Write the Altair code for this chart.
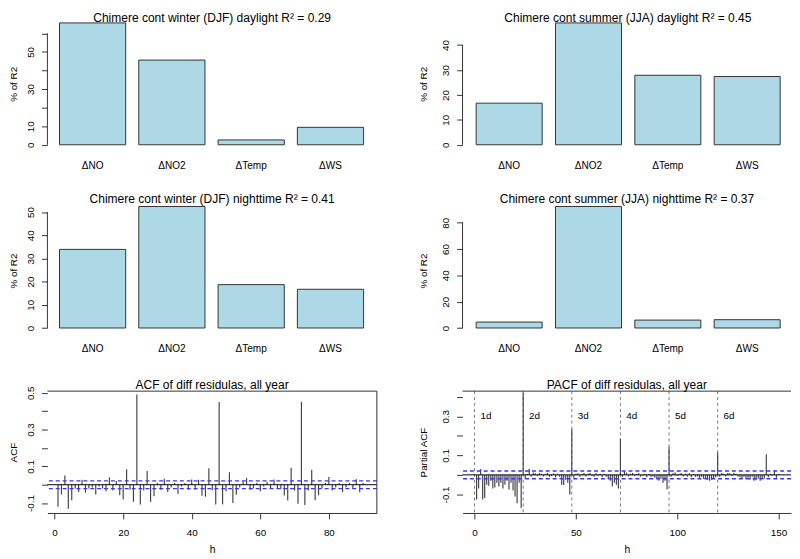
import json
import altair as alt
import pandas as pd

FONT = "Liberation Sans"
INK = "#333333"
BAR_FILL = "#ADD8E6"

# ---------------- data ----------------
variables = ["ΔNO", "ΔNO2", "ΔTemp", "ΔWS"]
winter_day = [65.6, 45.6, 2.6, 9.4]
summer_day = [16.7, 48.9, 27.9, 27.4]
winter_night = [33.9, 52.4, 18.7, 16.7]
summer_night = [4.5, 92.3, 6.0, 6.3]

title_wd = "Chimere cont winter (DJF) daylight R² = 0.29"
title_sd = "Chimere cont summer (JJA) daylight R² = 0.45"
title_wn = "Chimere cont winter (DJF) nighttime R² = 0.41"
title_sn = "Chimere cont summer (JJA) nighttime R² = 0.37"

ticks_wd = [0, 10, 20, 30, 40, 50, 60]
shown_wd = [0, 10, 30, 50]
ticks_sd = [0, 10, 20, 30, 40]
ticks_wn = [0, 10, 20, 30, 40, 50]
ticks_sn = [0, 20, 40, 60, 80]

acf_lags = list(range(1, 91))
acf_values = [
    -0.120, -0.053, 0.050, -0.130, -0.085, -0.020, -0.040, 0.027, -0.043, -0.020,
    -0.015, -0.053, -0.010, -0.020, -0.036, 0.040, -0.032, 0.020, -0.057, -0.080,
    0.084, -0.027, -0.093, 0.490, -0.107, -0.032, 0.075, -0.093, -0.063, 0.010,
    -0.027, 0.032, -0.040, -0.015, 0.010, -0.050, -0.010, 0.010, -0.027, 0.028,
    -0.027, 0.027, -0.060, -0.065, 0.089, -0.030, -0.107, 0.450, -0.107, -0.036,
    0.068, -0.100, -0.055, -0.015, 0.018, 0.036, -0.027, -0.020, 0.010, -0.036,
    -0.010, 0.015, -0.020, 0.028, -0.020, -0.025, -0.058, -0.086, 0.092, -0.032,
    -0.104, 0.450, -0.110, -0.032, 0.082, -0.085, -0.058, -0.020, 0.010, 0.042,
    -0.032, -0.015, 0.010, -0.041, -0.015, 0.010, -0.020, 0.030, -0.041, 0.010,
]
acf_ci = 0.021
acf_yticks = [-0.1, 0.0, 0.1, 0.2, 0.3, 0.4, 0.5]
acf_yshown = [-0.1, 0.1, 0.3, 0.5]
acf_xticks = [0, 20, 40, 60, 80]

pacf_lags = list(range(1, 151))
pacf_values = [
    -0.126, -0.070, 0.030, -0.126, -0.118, -0.050, -0.055, -0.030, -0.070, -0.065,
    -0.040, -0.060, -0.040, -0.070, -0.050, -0.030, -0.075, -0.040, -0.080, -0.110,
    -0.145, -0.040, -0.170, 0.420, -0.020, 0.005, 0.030, -0.010, 0.012, 0.008,
    -0.006, 0.010, 0.006, -0.008, 0.005, 0.010, -0.010, -0.006, 0.008, -0.012,
    0.006, -0.010, -0.050, -0.052, -0.025, -0.040, -0.100, 0.235, -0.015, 0.006,
    0.008, -0.010, 0.005, 0.010, -0.008, 0.006, 0.010, -0.006, -0.010, 0.008,
    -0.005, 0.006, -0.012, 0.005, -0.010, -0.020, -0.030, -0.060, -0.040, -0.050,
    -0.070, 0.185, -0.010, 0.020, 0.012, -0.008, 0.006, 0.010, -0.006, 0.005,
    0.008, -0.010, -0.005, 0.006, -0.012, 0.004, -0.010, -0.008, -0.015, -0.020,
    -0.030, -0.020, -0.040, -0.030, -0.075, 0.143, -0.010, 0.008, 0.012, -0.006,
    0.005, 0.010, -0.008, 0.006, -0.010, 0.008, -0.012, 0.005, -0.010, -0.008,
    -0.015, -0.010, -0.020, -0.020, -0.025, -0.030, -0.025, -0.020, -0.012, 0.114,
    -0.010, 0.010, 0.006, -0.008, 0.010, 0.008, -0.006, 0.010, 0.006, -0.008,
    -0.012, -0.018, -0.010, -0.020, -0.015, -0.025, -0.010, -0.030, -0.028, -0.020,
    -0.030, -0.018, -0.020, 0.106, -0.012, 0.006, -0.005, 0.022, -0.015, 0.005,
]
pacf_ci = 0.020
pacf_yticks = [-0.1, 0.0, 0.1, 0.2, 0.3, 0.4]
pacf_yshown = [-0.1, 0.1, 0.3]
pacf_xticks = [0, 50, 100, 150]
day_lags = [0, 24, 48, 72, 96, 120]
day_names = ["1d", "2d", "3d", "4d", "5d", "6d"]
day_label_level = 0.3

# ---------------- layout ----------------
COL1_W = 334.5
COL2_W = 333.8
ROW1_H = 133.6
ROW2_EXTRA = 6.7
ROW2_H = 133.2 + ROW2_EXTRA
ROW3_H = 123.7


def shown_expr(shown):
    return ("indexof(%s, datum.value) >= 0 ? replace(datum.label, '\u2212', '-') : ''"
            % json.dumps(shown))


def y_axis(ticks, shown, title, title_pad):
    return alt.Axis(
        values=ticks, labelExpr=shown_expr(shown), title=title,
        tickSize=6, tickColor=INK, domain=False, grid=False,
        labelAngle=270, labelAlign="center", labelBaseline="bottom",
        labelPadding=6, labelFontSize=10, labelFont=FONT, labelColor="black",
        labelOverlap=False, labelFlush=False, labelBound=False,
        titleFontSize=10, titleFont=FONT, titleFontWeight="normal",
        titleColor="black", titlePadding=title_pad,
    )


def bar_panel(values, title, ticks, shown, width, height, pad_inner, pad_outer,
              align, extra_bottom, title_offset, title_dx, title_pad):
    df = pd.DataFrame({"variable": variables, "share": values})
    m = max(values)
    span = 1.08 * m
    lo = -0.04 * m - extra_bottom / (height - extra_bottom) * span
    hi = 1.04 * m
    yscale = alt.Scale(domain=[lo, hi], nice=False, zero=False)
    yax = y_axis(ticks, shown, "% of R2", title_pad)
    bars = alt.Chart(df).mark_bar(fill=BAR_FILL, stroke=INK, strokeWidth=1).encode(
        x=alt.X("variable:N", sort=variables,
                scale=alt.Scale(paddingInner=pad_inner, paddingOuter=pad_outer, align=align),
                axis=alt.Axis(title=None, labelAngle=0, ticks=False, domain=False,
                              grid=False, labelPadding=11, labelFontSize=10.2,
                              labelFont=FONT, labelColor="black",
                              offset=-extra_bottom)),
        y=alt.Y("share:Q", scale=yscale, axis=yax),
    )
    axis_line = alt.Chart(pd.DataFrame({"share": [ticks[0]], "hi": [ticks[-1]]})).mark_rule(
        color=INK, strokeWidth=1).encode(
        x=alt.value(0),
        y=alt.Y("share:Q", scale=yscale, axis=yax),
        y2="hi:Q",
    )
    return alt.layer(bars, axis_line).properties(
        width=width, height=height,
        title=alt.TitleParams(text=title, offset=title_offset, dx=title_dx),
    )


def corr_panel(lags, values, ci, xdom, ydom, xticks, yticks, yshown, width, height,
               title, ytitle, title_pad, title_offset, box_right, dividers=False):
    df = pd.DataFrame({"lag": lags, "value": values})
    xs = alt.Scale(domain=xdom, nice=False, zero=False)
    ys = alt.Scale(domain=ydom, nice=False, zero=False)
    xax = alt.Axis(
        values=xticks, title="h", tickSize=6, tickColor=INK, domainColor=INK,
        grid=False, labelPadding=9, labelFontSize=10, labelFont=FONT,
        labelColor="black", labelFlush=False, labelOverlap=False,
        titleFontSize=10.5, titleFont=FONT, titleFontWeight="normal",
        titleColor="black", titlePadding=7)
    yax = y_axis(yticks, yshown, ytitle, title_pad)
    X = lambda f: alt.X(f, scale=xs, axis=xax)
    Y = lambda f: alt.Y(f, scale=ys, axis=yax)
    layers = []
    if dividers:
        ddf = pd.DataFrame({"lag": day_lags, "name": day_names})
        layers.append(alt.Chart(ddf).mark_rule(color="#777777", strokeDash=[3, 3],
                                               strokeWidth=1).encode(x=X("lag:Q")))
        layers.append(alt.Chart(ddf).mark_text(align="left", baseline="middle", dx=6,
                                               fontSize=10, font=FONT, color="black").encode(
            x=X("lag:Q"), y=Y("value:Q"), text="name:N",
        ).transform_calculate(value=str(day_label_level)))
    spikes = alt.Chart(df).mark_rule(color="#454545", strokeWidth=1.2).encode(
        x=X("lag:Q"), y=Y("value:Q"), y2=alt.datum(0),
    )
    layers.append(spikes)
    layers.append(alt.Chart(pd.DataFrame({"value": [0]})).mark_rule(
        color="black", strokeWidth=1).encode(y=Y("value:Q")))
    layers.append(alt.Chart(pd.DataFrame({"value": [ci, -ci]})).mark_rule(
        color="#3535ff", strokeDash=[4, 3], strokeWidth=1.4).encode(y=Y("value:Q")))
    # frame of the plot region
    layers.append(alt.Chart(pd.DataFrame({"value": [ydom[1]]})).mark_rule(
        color=INK, strokeWidth=1).encode(y=Y("value:Q")))
    if box_right:
        layers.append(alt.Chart(pd.DataFrame({"lag": [xdom[1]]})).mark_rule(
            color=INK, strokeWidth=1).encode(x=X("lag:Q")))
    return alt.layer(*layers).properties(
        width=width, height=height,
        title=alt.TitleParams(text=title, offset=title_offset),
    )


p_wd = bar_panel(winter_day, title_wd, ticks_wd, shown_wd, COL1_W, ROW1_H,
                 0.165, 0.16, 0.477, 0, -6.6, 0, 7)
p_sd = bar_panel(summer_day, title_sd, ticks_sd, ticks_sd, COL2_W, ROW1_H,
                 0.168, 0.156, 0.55, 0, -6.6, 1, 13)
p_wn = bar_panel(winter_night, title_wn, ticks_wn, ticks_wn, COL1_W, ROW2_H,
                 0.165, 0.16, 0.477, ROW2_EXTRA, -3.1, 0, 7)
p_sn = bar_panel(summer_night, title_sn, ticks_sn, ticks_sn, COL2_W, ROW2_H,
                 0.168, 0.156, 0.55, ROW2_EXTRA, -3.1, 0, 13)
p_acf = corr_panel(acf_lags, acf_values, acf_ci, [-2.1, 94.0], [-0.1537, 0.5088],
                   acf_xticks, acf_yticks, acf_yshown, COL1_W, ROW3_H,
                   "ACF of diff residulas, all year", "ACF", 7, -5.5, True)
p_pacf = corr_panel(pacf_lags, pacf_values, pacf_ci, [-5.93, 156.2], [-0.195, 0.4286],
                    pacf_xticks, pacf_yticks, pacf_yshown, 333.5, ROW3_H,
                    "PACF of diff residulas, all year", "Partial ACF", 13, -0.1, False,
                    dividers=True)

chart = alt.concat(
    p_wd, p_sd, p_wn, p_sn, p_acf, p_pacf,
    columns=2,
    spacing={"row": 52.4, "column": 86.5},
    bounds="flush",
    padding=0,
).configure(font=FONT).configure_view(stroke=None).configure_title(
    font=FONT, fontSize=12.2, fontWeight="normal", color="black",
    baseline="alphabetic", anchor="middle", frame="group",
)

chart.save("out.html", embed_options={"renderer": "svg", "actions": False})
